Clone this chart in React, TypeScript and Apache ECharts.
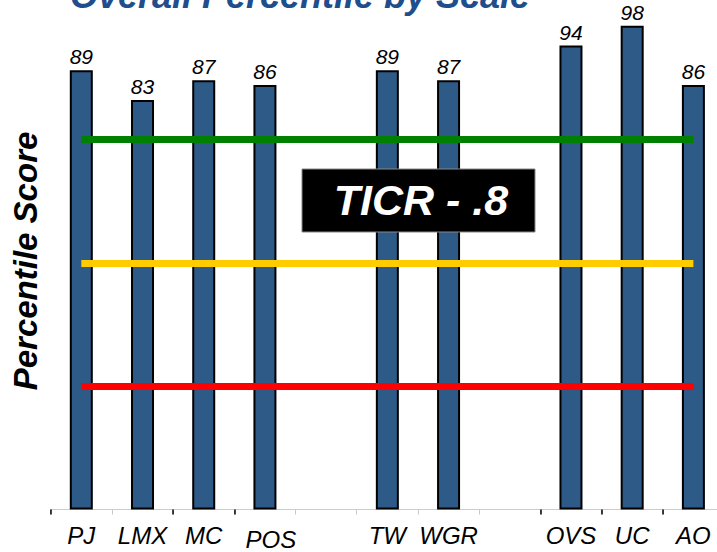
import React, { useEffect, useRef } from "react";
import * as echarts from "echarts";

const categories = ["PJ", "LMX", "MC", "POS", " ", "TW", "WGR", "  ", "OVS", "UC", "AO"];
const scores: (number | string)[] = [89, 83, 87, 86, "-", 89, 87, "-", 94, 98, 86];
const thresholds = [75, 50, 25];
const thresholdColors = ["#008000", "#FFCC00", "#FF0000"];
const blackTickIndices = [0, 2, 3, 8, 9, 10];
const titleText = "Overall Percentile by Scale";
const yAxisTitle = "Percentile Score";
const boxText = "TICR - .8";

const FONT = "'Liberation Sans', Arial, sans-serif";

export default function App() {
  const ref = useRef<HTMLDivElement>(null);
  useEffect(() => {
    if (!ref.current) return;
    const chart = echarts.init(ref.current, null, { renderer: "svg" });
    const catData = categories.map((c) =>
      c === "POS"
        ? { value: c, textStyle: { padding: [4, 0, 0, 12] } }
        : c
    );
    chart.setOption({
      animation: false,
      backgroundColor: "#ffffff",
      grid: {
        left: 50.7,
        top: 16,
        bottom: 42.5,
        width: 673.3,
        containLabel: false,
        outerBoundsMode: "none",
      },
      xAxis: [
        {
          type: "category",
          data: catData,
          boundaryGap: true,
          axisLine: { show: true, lineStyle: { color: "#cccccc", width: 1 } },
          axisTick: { show: true, length: 5, lineStyle: { color: "#c8c8c8" } },
          axisLabel: {
            show: true,
            interval: 0,
            margin: 14,
            fontFamily: FONT,
            fontSize: 24,
            fontStyle: "italic",
            color: "#000",
          },
        },
        {
          type: "category",
          data: catData,
          position: "bottom",
          boundaryGap: true,
          axisLine: { show: false },
          axisLabel: { show: false },
          axisTick: {
            show: true,
            length: 5,
            interval: (i: number) => blackTickIndices.includes(i),
            lineStyle: { color: "#000", width: 1.5 },
          },
        },
      ],
      yAxis: {
        type: "value",
        min: 0,
        max: 100,
        axisLine: { show: false },
        axisTick: { show: false },
        axisLabel: { show: false },
        splitLine: { show: false },
      },
      series: [
        {
          type: "bar",
          data: scores,
          barWidth: 23,
          itemStyle: { color: "#2E5A87", borderColor: "#000", borderWidth: 2 },
          label: {
            show: true,
            position: "top",
            distance: 3,
            fontFamily: FONT,
            fontSize: 21,
            fontStyle: "italic",
            color: "#000",
          },
          markLine: {
            silent: true,
            symbol: "none",
            label: { show: false },
            emphasis: { disabled: true },
            data: thresholds.map((v, i) => [
              { coord: [0, v], lineStyle: { color: thresholdColors[i], width: 7, type: "solid", cap: "butt" } },
              { coord: [10, v] },
            ]),
          },
        },
      ],
      graphic: [
        {
          type: "text",
          x: 300,
          y: -4.5,
          z: 100,
          style: {
            text: titleText,
            fontFamily: FONT,
            fontSize: 36,
            fontWeight: "bold",
            fontStyle: "italic",
            fill: "#1F4E8C",
            align: "center",
            verticalAlign: "middle",
          },
        },
        {
          type: "text",
          x: 25,
          y: 261,
          rotation: Math.PI / 2,
          z: 100,
          style: {
            text: yAxisTitle,
            fontFamily: FONT,
            fontSize: 33,
            fontWeight: "bold",
            fontStyle: "italic",
            fill: "#000",
            align: "center",
            verticalAlign: "middle",
          },
        },
        {
          type: "rect",
          z: 100,
          shape: { x: 302, y: 169, width: 233, height: 63 },
          style: { fill: "#000", stroke: "#888", lineWidth: 1 },
        },
        {
          type: "text",
          x: 421,
          y: 200,
          z: 101,
          style: {
            text: boxText,
            fontFamily: FONT,
            fontSize: 43,
            fontWeight: "bold",
            fontStyle: "italic",
            fill: "#fff",
            align: "center",
            verticalAlign: "middle",
          },
        },
      ],
    });
    return () => chart.dispose();
  }, []);
  return (
    <div
      ref={ref}
      style={{ position: "fixed", left: 0, top: 0, width: 717, height: 552 }}
    />
  );
}
